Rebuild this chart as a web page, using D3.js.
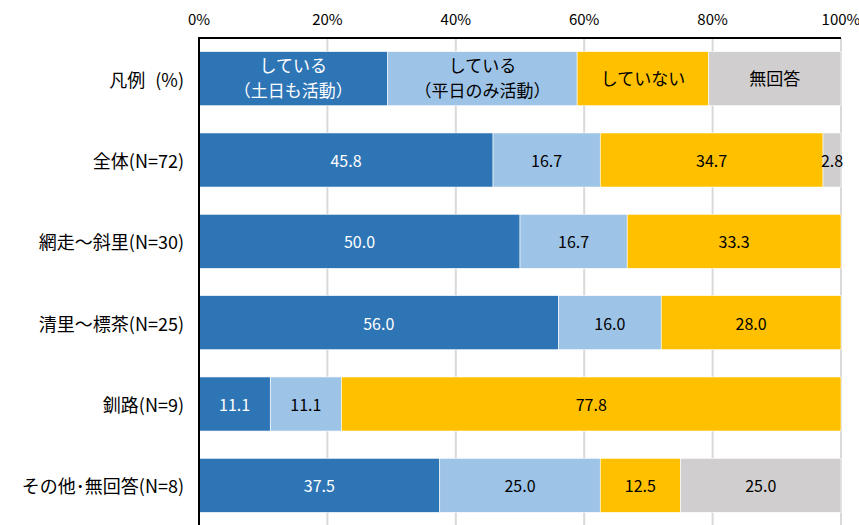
<!DOCTYPE html>
<html>
<head>
<meta charset="utf-8">
<script src="https://cdn.jsdelivr.net/npm/d3@7"></script>
<style>
  body { margin: 0; background: #fff; }
  svg text { font-family: "Noto Sans CJK JP", "Noto Sans", sans-serif; }
</style>
</head>
<body>
<div id="chart"></div>
<script>
// rows, top to bottom (first row is the legend bar)
const categories = ["凡例 (%)", "全体(N=72)", "網走～斜里(N=30)", "清里～標茶(N=25)", "釧路(N=9)", "その他･無回答(N=8)"];
const seriesNames = ["している（土日も活動）", "している（平日のみ活動）", "していない", "無回答"];
const legendWidths = [29.4, 29.5, 20.5, 20.6];
const legendLabels = [["している", "（土日も活動）"], ["している", "（平日のみ活動）"], ["していない"], ["無回答"]];
const weekendValues = [45.8, 50.0, 56.0, 11.1, 37.5];
const weekdayValues = [16.7, 16.7, 16.0, 11.1, 25.0];
const notValues = [34.7, 33.3, 28.0, 77.8, 12.5];
const noAnswerValues = [2.8, 0, 0, 0, 25.0];
const tickValues = [0, 20, 40, 60, 80, 100];

const colors = ["#2E75B6", "#9DC3E6", "#FFC000", "#D0CECE"];
const textColors = ["#fff", "#000", "#000", "#000"];

const width = 859, height = 525;
const margin = {top: 38, right: 18, bottom: -1, left: 199};

const svg = d3.select("#chart").append("svg")
    .attr("width", width)
    .attr("height", height);

const x = d3.scaleLinear().domain([0, 100]).range([margin.left, width - margin.right]);
const y = d3.scaleBand().domain(categories).range([margin.top, height - margin.bottom]).paddingInner(0.335).paddingOuter(0.1675);

// grid lines
svg.append("g")
  .selectAll("line")
  .data(tickValues.slice(1))
  .join("line")
    .attr("x1", d => x(d)).attr("x2", d => x(d))
    .attr("y1", margin.top).attr("y2", height)
    .attr("stroke", "#d9d9d9")
    .attr("stroke-width", 2);

// tick labels on top
svg.append("g")
  .selectAll("text")
  .data(tickValues)
  .join("text")
    .attr("x", d => x(d))
    .attr("y", 18)
    .attr("text-anchor", "middle")
    .attr("dominant-baseline", "central")
    .attr("font-size", 15)
    .attr("fill", "#000")
    .text(d => d + "%");

// build rows of stacked segments
const rows = categories.map((c, i) => {
  const vals = i === 0 ? legendWidths
    : [weekendValues[i - 1], weekdayValues[i - 1], notValues[i - 1], noAnswerValues[i - 1]];
  let acc = 0;
  return vals.map((v, k) => {
    const seg = {cat: c, k, v, x0: acc, x1: acc + v, legend: i === 0};
    acc += v;
    return seg;
  }).filter(s => s.v > 0);
});
const segs = rows.flat();

svg.append("g")
  .selectAll("rect")
  .data(segs)
  .join("rect")
    .attr("x", d => x(d.x0))
    .attr("y", d => y(d.cat))
    .attr("width", d => x(d.x1) - x(d.x0))
    .attr("height", y.bandwidth())
    .attr("fill", d => colors[d.k])
    .attr("stroke", "#fff")
    .attr("stroke-width", 0.6);

// value labels
svg.append("g")
  .selectAll("text")
  .data(segs.filter(d => !d.legend))
  .join("text")
    .attr("x", d => (x(d.x0) + x(d.x1)) / 2)
    .attr("y", d => y(d.cat) + y.bandwidth() / 2)
    .attr("text-anchor", "middle")
    .attr("dominant-baseline", "central")
    .attr("font-size", 16)
    .attr("fill", d => textColors[d.k])
    .text(d => d.v.toFixed(1));

// legend bar labels
const legendG = svg.append("g")
  .selectAll("text")
  .data(segs.filter(d => d.legend))
  .join("text")
    .attr("text-anchor", "middle")
    .attr("font-size", 17)
    .attr("fill", d => textColors[d.k])
    .attr("x", d => (x(d.x0) + x(d.x1)) / 2)
    .attr("y", d => y(d.cat) + y.bandwidth() / 2);
legendG.selectAll("tspan")
  .data(d => legendLabels[d.k].map((t, j, arr) => ({t, j, n: arr.length})))
  .join("tspan")
    .attr("x", function() { return d3.select(this.parentNode).attr("x"); })
    .attr("dy", d => d.j === 0 ? (d.n === 1 ? "0.35em" : "-0.4em") : "1.45em")
    .text(d => d.t);

// category labels (the legend row gets a spaced "(%)")
const catText = svg.append("g")
  .selectAll("text")
  .data(categories)
  .join("text")
    .attr("x", 184)
    .attr("y", d => y(d) + y.bandwidth() / 2)
    .attr("text-anchor", "end")
    .attr("dominant-baseline", "central")
    .attr("font-size", 18)
    .attr("fill", "#000");
catText.each(function(d, i) {
  const t = d3.select(this);
  if (i === 0) {
    const [main, unit] = d.split(" ");
    t.append("tspan").text(main);
    t.append("tspan").attr("dx", 10).text(unit);
  } else {
    t.text(d);
  }
});

// axis frame lines (top and left)
svg.append("line")
    .attr("x1", margin.left).attr("x2", x(100))
    .attr("y1", margin.top).attr("y2", margin.top)
    .attr("stroke", "#000").attr("stroke-width", 2);
svg.append("line")
    .attr("x1", margin.left).attr("x2", margin.left)
    .attr("y1", margin.top - 1).attr("y2", height)
    .attr("stroke", "#000").attr("stroke-width", 2);
</script>
</body>
</html>
